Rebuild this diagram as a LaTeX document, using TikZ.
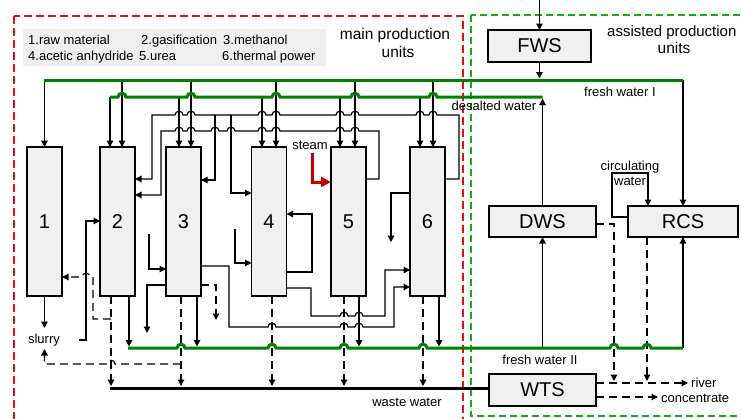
\documentclass[tikz,border=0pt]{standalone}
\usepackage{fontspec}
\setmainfont{Liberation Sans}
\usetikzlibrary{arrows.meta,calc}
\definecolor{boxgray}{HTML}{F0F0F0}
\definecolor{legendgray}{HTML}{EFEFEF}
\definecolor{fwgreen}{HTML}{008000}
\definecolor{framered}{HTML}{E01010}
\definecolor{framegreen}{HTML}{10B010}
\definecolor{steamred}{HTML}{C00000}
\newcommand\hopR[2]{-- ({#1-4},#2) .. controls ({#1-4},{#2-5}) and ({#1+4},{#2-5}) .. ({#1+4},#2)}
\newcommand\hopL[2]{-- ({#1+4},#2) .. controls ({#1+4},{#2-5}) and ({#1-4},{#2-5}) .. ({#1-4},#2)}
\begin{document}
\begin{tikzpicture}[x=1pt,y=-1pt,
  >={Triangle[length=6.5pt,width=6.5pt]},
  ln/.style={line width=1.2pt,black},
  dsh/.style={line width=1.2pt,black,dash pattern=on 8pt off 5pt},
  grn/.style={line width=3pt,color=fwgreen},
  wwline/.style={line width=3pt,black},
  unitbox/.style={draw,line width=1.3pt,fill=boxgray,inner sep=0pt,outer sep=0pt,minimum width=35pt,minimum height=149pt,font=\fontsize{20}{24}\selectfont},
  sbox/.style={draw,line width=1.3pt,fill=boxgray,inner sep=0pt,outer sep=0pt,minimum height=32pt,font=\fontsize{20}{24}\selectfont},
  lbl/.style={inner sep=0pt,font=\fontsize{13}{15}\selectfont},
  ttl/.style={inner sep=0pt,font=\fontsize{15.5}{18}\selectfont},
]
\useasboundingbox (0,0) rectangle (741,418);
\clip (0,0) rectangle (741,418);

% frames
\draw[framered,line width=1.1pt,dash pattern=on 8pt off 4pt] (14,16) rectangle (463,440);
\draw[framegreen,line width=1.1pt,dash pattern=on 7pt off 4pt] (471,15) rectangle (760,416);

% legend
\fill[legendgray] (23,29) rectangle (326,66);
\node[lbl,anchor=base west] (l1) at (28,44) {1.raw material};
\node[lbl,anchor=base west] (l2) at (141,44) {2.gasification};
\node[lbl,anchor=base west] (l3) at (223,44) {3.methanol};
\node[lbl,anchor=base west] (l4) at (28,60) {4.acetic anhydride};
\node[lbl,anchor=base west] (l5) at (139,60) {5.urea};
\node[lbl,anchor=base west] (l6) at (222,60) {6.thermal power};

% titles
\node[ttl,anchor=base] (mp1) at (395,39) {main production};
\node[ttl,anchor=base] (mp2) at (398,57) {units};
\node[ttl,anchor=base west,font=\fontsize{15}{18}\selectfont] (ap1) at (607,36) {assisted production};
\node[ttl,anchor=base] (ap2) at (674,53) {units};

% boxes
\node[unitbox] (u1) at (44.5,221.5) {1};
\node[unitbox] (u2) at (117.5,221.5) {2};
\node[unitbox] (u3) at (183.5,221.5) {3};
\node[unitbox] (u4) at (269,221.5) {4};
\node[unitbox] (u5) at (348.5,221.5) {5};
\node[unitbox] (u6) at (427.5,221.5) {6};
\node[sbox,minimum width=103pt] (fws) at (539.5,46) {FWS};
\node[sbox,minimum width=107pt,minimum height=31pt] (dws) at (542.5,221.5) {DWS};
\node[sbox,minimum width=110pt,minimum height=31pt] (rcs) at (683,221.5) {RCS};
\node[sbox,minimum width=107pt] (wts) at (542.5,390) {WTS};

% drops from fresh water I and desalted water
\draw[ln,->] (44.5,80) -- (u1.north);
\draw[ln,->] (122,80) -- ($(u2.north west)+(22,0)$);
\draw[ln,->] (110,97) -- ($(u2.north west)+(10,0)$);
\draw[ln,->] (191,80) -- ($(u3.north west)+(25,0)$);
\draw[ln,->] (179,97) -- ($(u3.north west)+(13,0)$);
\draw[ln,->] (276,80) -- ($(u4.north west)+(24.5,0)$);
\draw[ln,->] (262,97) -- ($(u4.north west)+(10.5,0)$);
\draw[ln,->] (355,80) -- ($(u5.north west)+(24,0)$);
\draw[ln,->] (340,97) -- ($(u5.north west)+(9,0)$);
\draw[ln,->] (433,80) -- ($(u6.north west)+(23,0)$);
\draw[ln,->] (420,97) -- ($(u6.north west)+(10,0)$);

% bus A (from unit 6)
\draw[ln,->] ($(u6.north east)+(0,32)$) -- (459,179) -- (459,115) \hopL{433}{115} \hopL{420}{115} \hopL{355}{115} \hopL{340}{115} \hopL{276}{115} \hopL{262}{115} \hopL{191}{115} \hopL{179}{115} -- (152,115) -- (152,179) -- ($(u2.north east)+(0,32)$);
\draw[ln,->] (215,115) -- (215,180) -- ($(u3.north east)+(0,33)$);
\draw[ln,->] (231,115) -- (231,193) -- ($(u4.north west)+(0,46)$);
% bus B (from unit 5)
\draw[ln,->] ($(u5.north east)+(0,32)$) -- (379,179) -- (379,131) \hopL{355}{131} \hopL{340}{131} \hopL{276}{131} \hopL{262}{131} \hopL{231}{131} \hopL{215}{131} \hopL{191}{131} \hopL{179}{131} -- (161,131) -- (161,195) -- ($(u2.north east)+(0,48)$);

% steam
\draw[line width=3pt,color=steamred,-{Triangle[length=10pt,width=10pt]}] (312,153) -- (312,182) -- ($(u5.north west)+(0,35)$);
\node[lbl,anchor=base] (steam) at (310,149) {steam};

% unit 4 loop and inputs
\draw[ln,->] ($(u4.north east)+(0,125)$) -- (312,272) -- (312,214) -- ($(u4.north east)+(0,67)$);
\draw[ln,->] (235,229) -- (235,263) -- ($(u4.north west)+(0,116)$);
% unit 3 side streams
\draw[ln,->] (149,234) -- (149,269) -- ($(u3.north west)+(0,122)$);
\draw[ln,->] ($(u3.north west)+(0,138)$) -- (147,285) -- (147,333);
\draw[dsh,->] ($(u3.north east)+(0,138)$) -- (216,285) -- (216,320);
\draw[ln,->] ($(u3.north east)+(0,119)$) -- (229,266) -- (229,327) \hopR{272}{327} \hopR{344}{327} \hopR{359}{327} -- (394,327) -- (394,287) -- ($(u6.north west)+(0,140)$);
\draw[ln,->] ($(u4.north east)+(0,141)$) -- (311,288) -- (311,316) \hopR{344}{316} \hopR{359}{316} -- (385,316) -- (385,270) -- ($(u6.north west)+(0,123)$);
% unit 6 left output
\draw[ln,->] ($(u6.north west)+(0,46)$) -- (391,193) -- (391,242);

% slurry
\draw[ln,->] (79,340) -- (86,340) -- (86,221) -- ($(u2.north west)+(0,74)$);
\draw[ln,->] (u1.south) -- (44.5,328);
\node[lbl,anchor=base] (slurry) at (44,343) {slurry};
\draw[dsh,->] (111,319) -- (93,319) -- (93,277) \hopL{86}{277} -- ($(u1.north east)+(0,130)$);
\draw[dsh,->] (181,364) \hopL{111}{364} -- (44.5,364) -- (44.5,349);

% dashed to waste water
\draw[dsh,->] ($(u2.south west)+(11,0)$) -- (111,386);
\draw[dsh,->] ($(u3.south west)+(15,0)$) -- (181,386);
\draw[dsh,->] ($(u4.south west)+(20.5,0)$) -- (272,386);
\draw[dsh,->] ($(u5.south west)+(13,0)$) -- (344,386);
\draw[dsh,->] ($(u6.south west)+(13,0)$) -- (423,386);

% solids to fresh water II
\draw[ln,->] ($(u2.south west)+(29,0)$) -- (129,346.5);
\draw[ln,->] ($(u3.south west)+(31,0)$) -- (197,346.5);
\draw[ln,->] ($(u5.south west)+(28,0)$) -- (359,346.5);
\draw[ln,->] ($(u6.south west)+(29,0)$) -- (439,346.5);

% assisted units connections
\draw[ln,->] (539.5,0) -- (fws.north);
\draw[ln,->] (fws.south) -- (539.5,78.5);
\draw[ln,->] (683,80) -- (rcs.north);
\draw[ln,->] (dws.north) -- (542.5,98.5);
\draw[ln,->] (683,348) -- (rcs.south);
\draw[ln,->] (542.5,348) -- (dws.south);
\draw[ln,->] ($(rcs.north west)+(0,11)$) -- (612,217) -- (612,173) -- (648,173) -- ($(rcs.north west)+(20,0)$);
\draw[dsh,->] ($(dws.north east)+(0,18)$) -- (614,224) -- (614,381);
\draw[dsh,->] ($(rcs.south west)+(19,0)$) -- (647,381);
\draw[dsh,->] ($(wts.north east)+(0,9)$) -- (688,383);
\draw[dsh,->] ($(wts.north east)+(0,23)$) -- (658,397);

% green lines
\draw[grn] (44,80) -- (683,80);
\draw[grn] (110,97) \hopR{122}{97} \hopR{191}{97} \hopR{276}{97} \hopR{355}{97} \hopR{433}{97} -- (542.5,97);
\draw[grn] (128,348) \hopR{181}{348} \hopR{272}{348} \hopR{344}{348} \hopR{423}{348} \hopR{614}{348} \hopR{647}{348} -- (683,348);
% waste water line
\draw[wwline] (110,388) -- ($(wts.north west)+(0,14)$);

% labels
\node[lbl,anchor=base] (dwlab) at (494,110) {desalted water};
\node[lbl,anchor=base] (fw1lab) at (620,96) {fresh water I};
\node[lbl,anchor=base] (circ1) at (630,170) {circulating};
\node[lbl,anchor=base] (circ2) at (630,185) {water};
\node[lbl,anchor=base] (fw2lab) at (540,364) {fresh water II};
\node[lbl,anchor=base] (wwlab) at (407,406) {waste water};
\node[lbl,anchor=base west] (river) at (691,387) {river};
\node[lbl,anchor=base west] (conc) at (661,402) {concentrate};
\end{tikzpicture}
\end{document}
